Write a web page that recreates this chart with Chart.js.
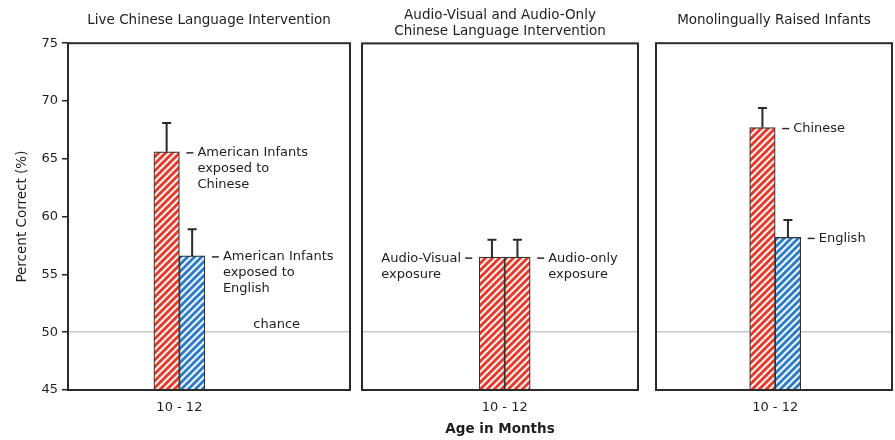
<!DOCTYPE html>
<html>
<head>
<meta charset="utf-8">
<script src="https://cdn.jsdelivr.net/npm/chart.js@4.4.0/dist/chart.umd.min.js"></script>
<style>
  body { margin: 0; background: #fff; }
  #wrap { position: relative; width: 895px; height: 440px; }
  canvas { position: absolute; top: 0; }
</style>
</head>
<body>
<div id="wrap">
  <canvas id="live" width="358" height="440" style="left:0"></canvas>
  <canvas id="media" width="290" height="440" style="left:355px"></canvas>
  <canvas id="mono" width="247" height="440" style="left:648px"></canvas>
</div>
<script>
// dados
const ageGroups = ['10 - 12'];
const yTicks = [45, 50, 55, 60, 65, 70, 75];
const chanceLevel = 50;

// painel 1 - intervencao ao vivo
const liveChinese = [65.6];
const liveChineseSE = [2.5];
const liveEnglish = [56.6];
const liveEnglishSE = [2.3];

// painel 2 - audiovisual / so audio
const audioVisual = [56.5];
const audioVisualSE = [1.5];
const audioOnly = [56.5];
const audioOnlySE = [1.5];

// painel 3 - monolingues
const monoChinese = [67.7];
const monoChineseSE = [1.7];
const monoEnglish = [58.2];
const monoEnglishSE = [1.5];

Chart.defaults.font.family = "'DejaVu Sans', sans-serif";
Chart.defaults.font.size = 13;
Chart.defaults.color = '#1e1e1e';

// textura listrada das barras
function hachura(cor) {
    const c = document.createElement('canvas');
    c.width = c.height = 7;
    const g = c.getContext('2d');
    g.fillStyle = cor;
    g.fillRect(0, 0, 7, 7);
    g.strokeStyle = 'rgba(255,255,255,0.92)';
    g.lineWidth = 2.2;
    g.beginPath();
    g.moveTo(-1, 8); g.lineTo(8, -1);
    g.moveTo(-1, 1); g.lineTo(1, -1);
    g.moveTo(6, 8); g.lineTo(8, 6);
    g.stroke();
    return g.createPattern(c, 'repeat');
}
const vermelho = hachura('#e5392a');
const azul = hachura('#2b7bc6');

// caixa, barras de erro e rotulos
const extras = {
    id: 'extras',
    afterDatasetsDraw(chart, args, opts) {
        const { ctx, chartArea: a, scales: { y } } = chart;
        ctx.save();
        ctx.strokeStyle = '#2a2a2a';
        ctx.lineWidth = 2;
        ctx.strokeRect(a.left, a.top, a.width, a.height);

        ctx.font = "13px 'DejaVu Sans', sans-serif";
        ctx.fillStyle = '#1e1e1e';
        ctx.textBaseline = 'middle';
        chart.data.datasets.forEach((ds, i) => {
            chart.getDatasetMeta(i).data.forEach((bar, j) => {
                const topo = y.getPixelForValue(ds.data[j] + ds.se[j]);
                ctx.lineWidth = 2;
                ctx.beginPath();
                ctx.moveTo(bar.x, bar.y);
                ctx.lineTo(bar.x, topo);
                ctx.moveTo(bar.x - 4.5, topo);
                ctx.lineTo(bar.x + 4.5, topo);
                ctx.stroke();

                const yy = bar.y + 1;
                ctx.lineWidth = 1.5;
                ctx.textAlign = 'left';
                ctx.beginPath();
                if (ds.side === 'right') {
                    const x0 = bar.x + bar.width / 2 + 7;
                    ctx.moveTo(x0, yy); ctx.lineTo(x0 + 7, yy);
                    ctx.stroke();
                    ds.note.forEach((t, k) => ctx.fillText(t, x0 + 11, yy + k * 16));
                } else {
                    const x0 = bar.x - bar.width / 2 - 7;
                    ctx.moveTo(x0 - 7, yy); ctx.lineTo(x0, yy);
                    ctx.stroke();
                    const maxW = Math.max(...ds.note.map(t => ctx.measureText(t).width));
                    ds.note.forEach((t, k) => ctx.fillText(t, x0 - 11 - maxW, yy + k * 16));
                }
            });
        });

        if (opts.chance) {
            ctx.textAlign = 'center';
            ctx.fillText('chance', a.left + a.width * 0.74, y.getPixelForValue(chanceLevel) - 8);
        }
        ctx.restore();
    }
};

function eixoX(pos, titulo) {
    return {
        grid: { display: false, drawTicks: false },
        border: { display: false },
        ticks: { padding: 10 },
        title: { display: !!titulo, text: titulo || '', font: { size: 13.5, weight: 'bold' }, padding: { top: 0, bottom: 2 } },
        // posicao horizontal da categoria dentro da caixa
        afterBuildTicks: s => { s._startValue = -pos; s._valueRange = 1; },
        afterFit: s => { s.height = 50; }
    };
}

function eixoY(comRotulos) {
    return {
        min: 45,
        max: 75,
        afterBuildTicks: s => { s.ticks = yTicks.map(v => ({ value: v })); },
        ticks: { display: comRotulos, padding: 4 },
        grid: {
            color: c => c.tick && c.tick.value === chanceLevel ? '#c9c9c9' : 'rgba(0,0,0,0)',
            lineWidth: 1.5,
            drawTicks: comRotulos,
            tickLength: 6,
            tickColor: '#222',
            tickWidth: 1.5
        },
        border: { display: false },
        title: { display: comRotulos, text: 'Percent Correct (%)', font: { size: 13.5 }, padding: { top: 14, bottom: 0 } },
        afterFit: s => { s.width = comRotulos ? 68 : 0; }
    };
}

function painel(id, cfg) {
    return new Chart(document.getElementById(id), {
        type: 'bar',
        data: {
            labels: ageGroups,
            datasets: cfg.datasets.map(d => ({ ...d, borderColor: '#333', borderWidth: 1.2, barThickness: 25.5 }))
        },
        options: {
            responsive: false,
            animation: false,
            layout: { padding: cfg.padding },
            plugins: {
                legend: { display: false },
                tooltip: { enabled: false },
                title: {
                    display: true,
                    text: cfg.title,
                    fullSize: false,
                    font: { size: 13.5, weight: 'normal', lineHeight: 1.2 },
                    color: '#1e1e1e',
                    padding: cfg.titlePad
                },
                extras: { chance: cfg.chance }
            },
            scales: { x: eixoX(cfg.xPos, cfg.xTitle), y: eixoY(cfg.yLabels) }
        },
        plugins: [extras]
    });
}

painel('live', {
    title: 'Live Chinese Language Intervention',
    titlePad: { top: 12, bottom: 15 },
    padding: { left: 0, right: 8, top: 0, bottom: 0 },
    xPos: 0.395,
    yLabels: true,
    chance: true,
    datasets: [
        { data: liveChinese, se: liveChineseSE, backgroundColor: vermelho, side: 'right', note: ['American Infants', 'exposed to', 'Chinese'] },
        { data: liveEnglish, se: liveEnglishSE, backgroundColor: azul, side: 'right', note: ['American Infants', 'exposed to', 'English'] }
    ]
});

painel('media', {
    title: ['Audio-Visual and Audio-Only', 'Chinese Language Intervention'],
    titlePad: { top: 7, bottom: 4 },
    padding: { left: 7, right: 7, top: 0, bottom: 0 },
    xPos: 0.517,
    xTitle: 'Age in Months',
    yLabels: false,
    datasets: [
        { data: audioVisual, se: audioVisualSE, backgroundColor: vermelho, side: 'left', note: ['Audio-Visual', 'exposure'] },
        { data: audioOnly, se: audioOnlySE, backgroundColor: vermelho, side: 'right', note: ['Audio-only', 'exposure'] }
    ]
});

painel('mono', {
    title: 'Monolingually Raised Infants',
    titlePad: { top: 12, bottom: 15 },
    padding: { left: 8, right: 3, top: 0, bottom: 0 },
    xPos: 0.505,
    yLabels: false,
    datasets: [
        { data: monoChinese, se: monoChineseSE, backgroundColor: vermelho, side: 'right', note: ['Chinese'] },
        { data: monoEnglish, se: monoEnglishSE, backgroundColor: azul, side: 'right', note: ['English'] }
    ]
});
</script>
</body>
</html>
